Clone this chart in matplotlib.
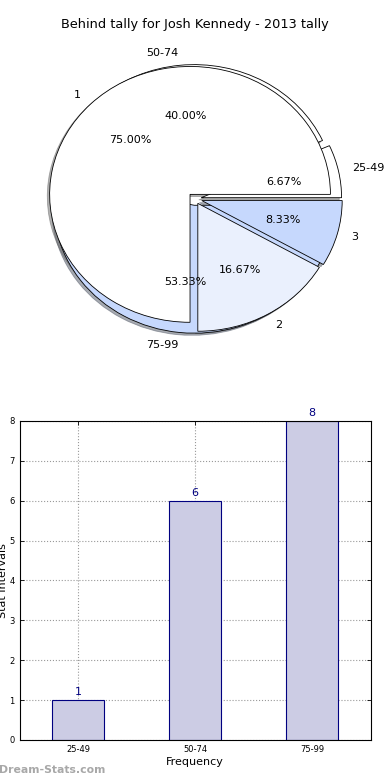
import matplotlib
matplotlib.use("Agg")
import matplotlib.pyplot as plt

# ---- data ----
title = "Behind tally for Josh Kennedy - 2013 tally"
intervals = ["25-49", "50-74", "75-99"]
interval_counts = [1, 6, 8]
behinds = ["1", "2", "3"]
behind_counts = [9, 2, 1]

pie_colors = ["#ffffff", "#eaf0fd", "#c6d8fd"]
pie_colors_a = ["#ffffff", "#ffffff", "#c6d8fd"]

plt.rcParams["font.family"] = ["DejaVu Sans"]

fig = plt.figure(figsize=(3.9, 7.8), dpi=100)

# ---- pie chart (two overlaid pies) ----
axp = fig.add_axes([0.05, 0.54, 0.9, 0.41])
explode_a = [0.045, 0.05, 0.05]
explode_b = [0.05, 0.04, 0.05]
wp = {"edgecolor": "black", "linewidth": 0.6}
sh = {"ox": -0.012, "oy": -0.012, "shade": 0.6}
axp.pie(interval_counts, labels=intervals, colors=pie_colors_a, explode=explode_a,
        autopct="%1.2f%%", shadow=sh, startangle=0, wedgeprops=wp,
        textprops={"fontsize": 8})
axp.pie(behind_counts, labels=behinds, colors=pie_colors, explode=explode_b,
        autopct="%1.2f%%", shadow=sh, startangle=0, wedgeprops=wp,
        textprops={"fontsize": 8})
axp.set_aspect("auto")
axp.set_xlim(-1.25, 1.25)
axp.set_ylim(-1.25, 1.25)
axp.axis("off")
axp.set_title(title, fontsize=9.3, pad=8)

# ---- bar chart ----
axb = fig.add_axes([0.05, 0.0513, 0.9, 0.409])
x = list(range(len(intervals)))
bars = axb.bar(x, interval_counts, width=0.45, color="#cccce4",
               edgecolor="#000080", linewidth=0.8, zorder=2)
for xi, v in zip(x, interval_counts):
    axb.text(xi, v + 0.08, str(v), ha="center", va="bottom",
             fontsize=8, color="#000080")
axb.set_xlim(-0.5, 2.5)
axb.set_ylim(0, 8)
axb.set_xticks(x)
axb.set_xticklabels(intervals)
axb.set_yticks(range(0, 9))
axb.tick_params(labelsize=6, direction="in", top=True, right=True, length=3, width=0.6)
axb.grid(True, linestyle=":", color="#999999", linewidth=0.8, zorder=0)
axb.set_axisbelow(True)
axb.set_xlabel("Frequency", fontsize=8, labelpad=2)
axb.set_ylabel("Stat Intervals", fontsize=8, labelpad=1)
for s in axb.spines.values():
    s.set_linewidth(0.8)

fig.text(-0.003, 0.0128, "Dream-Stats.com", fontsize=7.8, color="#a8a8a8",
         fontweight="bold", ha="left", va="center")

fig.savefig("out.png", dpi=100)
